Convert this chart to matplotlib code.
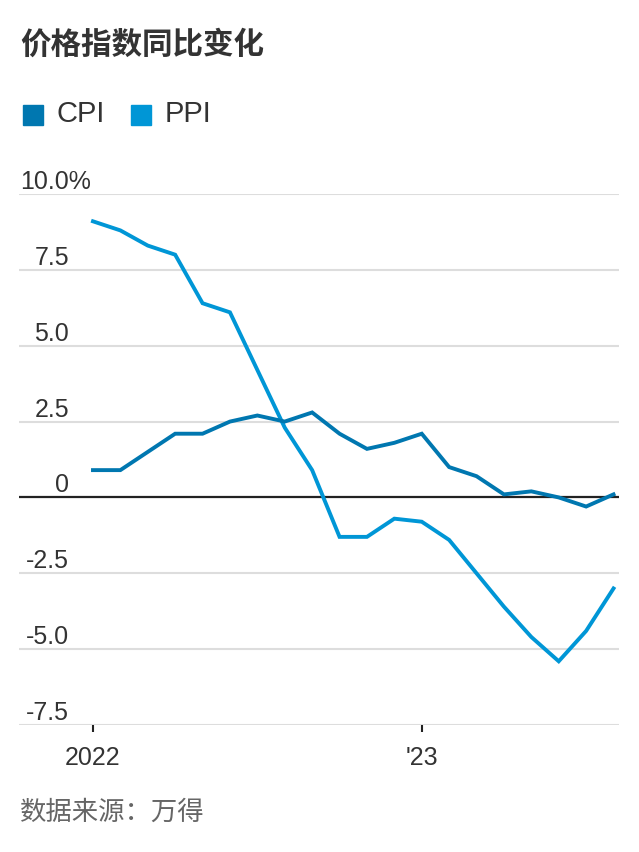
import numpy as np
import matplotlib
matplotlib.use("Agg")
import matplotlib.pyplot as plt
import matplotlib.transforms as mtransforms

plt.rcParams['font.family'] = ['Liberation Sans', 'Noto Sans CJK SC', 'DejaVu Sans']

# monthly data, Jan 2022 - Aug 2023
months = np.arange(20)
cpi = [0.9, 0.9, 1.5, 2.1, 2.1, 2.5, 2.7, 2.5, 2.8, 2.1, 1.6, 1.8,
       2.1, 1.0, 0.7, 0.1, 0.2, 0.0, -0.3, 0.1]
ppi = [9.1, 8.8, 8.3, 8.0, 6.4, 6.1, 4.2, 2.3, 0.9, -1.3, -1.3, -0.7,
       -0.8, -1.4, -2.5, -3.6, -4.6, -5.4, -4.4, -3.0]
yticks = [10.0, 7.5, 5.0, 2.5, 0, -2.5, -5.0, -7.5]
ylabels = ['10.0%', '7.5', '5.0', '2.5', '0', '-2.5', '-5.0', '-7.5']
xticks = [0, 12]
xlabels = ['2022', "'23"]

c_cpi = '#0077b0'
c_ppi = '#0096d6'
txt = '#333333'

W, H = 639, 852
fig = plt.figure(figsize=(W / 100, H / 100), dpi=100)
ax = fig.add_axes([19 / W, (H - 725) / H, 600 / W, (725 - 194) / H])

for y in yticks:
    if y == 0:
        continue
    ax.axhline(y, color='#dddddd', lw=1.5, zorder=1)
ax.axhline(0, color='#222222', lw=1.6, zorder=2)

ax.plot(months, ppi, color=c_ppi, lw=2.8, zorder=3, solid_joinstyle='miter')
ax.plot(months, cpi, color=c_cpi, lw=2.8, zorder=4, solid_joinstyle='miter')

ax.set_xlim(-2.7, 19.2)
ax.set_ylim(-7.5, 10)
for s in ax.spines.values():
    s.set_visible(False)
ax.set_yticks([])
ax.set_xticks(xticks)
ax.set_xticklabels(xlabels, fontsize=18, color=txt)
ax.tick_params(axis='x', length=5, width=1.5, color='#222222', pad=10)

# y labels sit above the gridlines, right aligned
trans = mtransforms.blended_transform_factory(ax.transAxes, ax.transData)
off = mtransforms.offset_copy(trans, fig=fig, x=0, y=0, units='dots')
for y, lab in zip(yticks, ylabels):
    if lab.endswith('%'):
        ax.text(1 / 600, y, lab, transform=off, ha='left', va='bottom',
                fontsize=18, color=txt)
    else:
        ax.text(50 / 600, y, lab, transform=off, ha='right', va='bottom',
                fontsize=18, color=txt)

# title
fig.text(20 / W, 1 - 45 / H, '价格指数同比变化', fontsize=22, fontweight='bold',
         color=txt, va='center', ha='left', family=['Noto Sans CJK SC'])

# legend
for x0, col, lab in [(23, c_cpi, 'CPI'), (131, c_ppi, 'PPI')]:
    fig.patches.append(plt.Rectangle((x0 / W, 1 - 125 / H), 20 / W, 20 / H,
                                     transform=fig.transFigure, color=col))
    fig.text((x0 + 34) / W, 1 - 114 / H, lab, fontsize=21, color=txt,
             va='center', ha='left')

# source
fig.text(20 / W, 1 - 812 / H, '数据来源：万得', fontsize=19, color='#666666',
         va='center', ha='left', family=['Noto Sans CJK SC'])

fig.savefig('out.png', dpi=100)
